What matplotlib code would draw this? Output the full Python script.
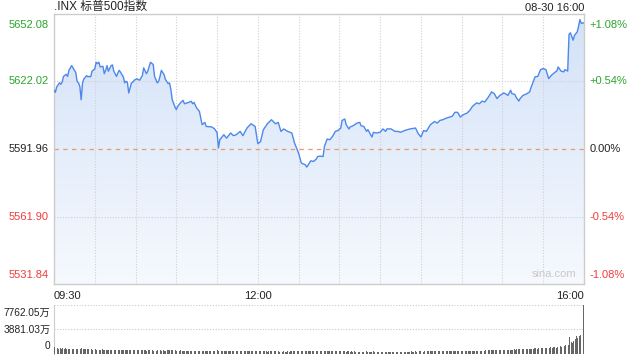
import matplotlib
matplotlib.use('Agg')
import matplotlib.pyplot as plt
from matplotlib.colors import LinearSegmentedColormap
import numpy as np

plt.rcParams['font.family'] = ['Liberation Sans', 'Noto Sans CJK SC', 'DejaVu Sans']

# minute offsets from 09:30 and index level
minutes = [0, 1, 2, 4, 5, 6, 7, 9, 10, 11, 13, 14, 15, 16, 17, 18, 19, 20, 21, 22,
           24, 25, 26, 27, 28, 30, 31, 32, 33, 34, 36, 37, 38, 39, 40, 42, 43, 44, 46, 47,
           48, 49, 51, 52, 53, 54, 55, 57, 58, 59, 61, 63, 65, 66, 68, 69, 71, 73, 74, 76,
           77, 78, 79, 81, 82, 84, 85, 86, 87, 89, 90, 91, 93, 95, 96, 99, 101, 102, 103, 105,
           107, 108, 109, 111, 112, 114, 116, 118, 120, 121, 122, 125, 127, 130, 132, 134, 137, 139, 142, 145,
           148, 150, 152, 154, 157, 160, 163, 165, 167, 169, 172, 175, 177, 180, 182, 185, 186, 189, 191, 193,
           194, 196, 198, 199, 201, 203, 205, 207, 209, 211, 212, 214, 215, 217, 218, 220, 223, 225, 226, 228,
           230, 231, 233, 234, 235, 237, 240, 242, 244, 245, 248, 251, 253, 255, 258, 262, 266, 268, 270, 272,
           274, 277, 280, 282, 284, 286, 289, 293, 295, 297, 299, 301, 304, 306, 308, 311, 313, 315, 317, 320,
           322, 324, 326, 328, 331, 333, 334, 336, 337, 339, 340, 342, 343, 345, 348, 350, 351, 354, 356, 358,
           360, 362, 364, 366, 369, 370, 371, 373, 375, 376, 378, 379, 380, 382, 383, 385, 386, 387, 388, 390]
prices = [5618.1, 5617.2, 5619.6, 5621.4, 5620.8, 5621.8, 5624.3, 5625.2, 5624.3, 5627.0,
          5629.1, 5628.1, 5627.0, 5626.1, 5622.1, 5621.4, 5619.9, 5613.9, 5621.4, 5623.2,
          5624.6, 5624.1, 5624.3, 5624.1, 5626.6, 5627.6, 5630.6, 5630.0, 5630.6, 5628.5,
          5628.8, 5625.5, 5627.0, 5629.1, 5626.6, 5629.1, 5629.4, 5626.6, 5624.3, 5625.8,
          5627.0, 5626.1, 5624.1, 5621.4, 5622.1, 5621.7, 5616.9, 5621.4, 5621.7, 5622.6,
          5623.2, 5622.6, 5624.6, 5628.1, 5625.5, 5626.6, 5630.6, 5629.6, 5624.3, 5621.4,
          5622.1, 5624.3, 5627.0, 5625.1, 5622.9, 5621.1, 5621.4, 5618.4, 5613.9, 5610.7,
          5609.5, 5610.9, 5612.5, 5613.6, 5612.1, 5612.7, 5613.2, 5612.1, 5612.7, 5610.2,
          5608.7, 5605.8, 5602.8, 5603.8, 5602.0, 5601.9, 5601.8, 5601.0, 5599.3, 5592.4,
          5596.1, 5598.3, 5596.8, 5599.1, 5597.9, 5598.3, 5599.8, 5597.9, 5601.3, 5603.2,
          5602.0, 5594.3, 5595.3, 5600.5, 5603.2, 5605.0, 5603.2, 5603.8, 5599.8, 5600.9,
          5599.8, 5599.1, 5594.6, 5590.1, 5585.7, 5584.9, 5583.9, 5586.7, 5586.4, 5587.5,
          5588.6, 5588.8, 5588.6, 5593.1, 5596.4, 5596.1, 5597.6, 5599.8, 5600.2, 5601.3,
          5604.7, 5605.3, 5602.8, 5600.9, 5601.8, 5602.3, 5603.5, 5603.8, 5602.3, 5602.0,
          5599.8, 5600.6, 5598.3, 5597.3, 5599.4, 5599.1, 5599.4, 5600.9, 5599.8, 5600.9,
          5600.9, 5599.8, 5599.8, 5599.4, 5600.2, 5600.9, 5601.3, 5598.8, 5597.3, 5600.2,
          5599.8, 5602.8, 5604.2, 5603.5, 5604.7, 5605.0, 5605.8, 5606.5, 5608.3, 5608.3,
          5606.2, 5607.2, 5608.0, 5609.2, 5611.0, 5612.5, 5612.1, 5613.3, 5612.9, 5615.4,
          5617.4, 5616.6, 5614.4, 5615.8, 5616.9, 5616.3, 5615.8, 5618.1, 5616.6, 5616.3,
          5615.1, 5613.3, 5614.4, 5615.8, 5616.6, 5617.4, 5619.3, 5624.1, 5624.3, 5627.3,
          5627.8, 5627.3, 5623.3, 5624.8, 5626.3, 5626.7, 5628.5, 5626.7, 5626.3, 5627.3,
          5626.7, 5643.1, 5643.7, 5640.4, 5642.6, 5644.1, 5646.6, 5649.6, 5647.9, 5648.2]

# per-minute volume (万)
volume = [1150, 980, 900, 870, 920, 850, 880, 820, 900, 860, 830, 870, 800, 850, 820, 780, 840, 800, 760, 820,
          900, 780, 760, 800, 740, 770, 720, 750, 700, 760, 720, 690, 740, 700, 680, 720, 660, 700, 680, 650,
          700, 660, 640, 690, 650, 620, 660, 630, 610, 650, 620, 640, 600, 630, 590, 700, 620, 580, 610, 590,
          600, 570, 590, 560, 600, 580, 620, 560, 550, 590, 570, 600, 560, 540, 580, 550, 570, 530, 560, 540,
          560, 530, 550, 600, 580, 620, 560, 640, 600, 580, 550, 570, 530, 560, 520, 540, 510, 530, 500, 520,
          500, 520, 490, 510, 480, 530, 500, 520, 560, 540, 500, 490, 510, 480, 500, 470, 490, 480, 500, 560,
          600, 520, 500, 480, 470, 490, 460, 480, 450, 470, 460, 440, 470, 450, 430, 460, 440, 420, 450, 430,
          440, 420, 450, 430, 410, 440, 420, 400, 430, 460, 440, 420, 410, 430, 400, 420, 410, 390, 420, 400,
          410, 390, 420, 400, 380, 410, 390, 400, 380, 410, 390, 370, 400, 380, 420, 400, 430, 450, 440, 460,
          480, 460, 450, 470, 440, 460, 450, 430, 440, 420, 430, 410, 440, 420, 400, 430, 410, 420, 440, 430,
          450, 430, 420, 440, 410, 430, 420, 400, 420, 410, 430, 440, 420, 400, 410, 390, 420, 400, 380, 410,
          390, 400, 380, 410, 390, 370, 400, 380, 390, 370, 400, 380, 390, 370, 380, 400, 380, 370, 390, 380,
          370, 390, 380, 360, 380, 370, 390, 370, 360, 380, 370, 390, 380, 360, 370, 380, 360, 390, 370, 380,
          390, 370, 380, 400, 380, 390, 410, 390, 400, 420, 400, 410, 390, 400, 420, 410, 430, 420, 410, 430,
          420, 440, 430, 420, 450, 430, 440, 460, 440, 450, 470, 450, 460, 440, 470, 460, 480, 460, 470, 490,
          480, 470, 490, 480, 500, 490, 510, 500, 520, 500, 510, 530, 520, 510, 540, 520, 550, 530, 560, 540,
          560, 580, 560, 590, 570, 600, 580, 610, 600, 620, 640, 620, 650, 630, 660, 680, 650, 700, 680, 720,
          700, 740, 720, 760, 740, 780, 760, 800, 780, 820, 800, 840, 860, 820, 880, 900, 860, 920, 940, 900,
          900, 960, 920, 1000, 940, 980, 1050, 1000, 1100, 1050, 1000, 1150, 1050, 1200, 1100, 1250, 1200, 1350, 1300, 1400,
          2650, 1900, 1750, 2100, 2400, 2900, 2600, 2900, 3000, 4100, 7762]

prev_close = 5591.96
y_ticks = [5531.84, 5561.90, 5591.96, 5622.02, 5652.08]
pct_labels = ['-1.08%', '-0.54%', '0.00%', '+0.54%', '+1.08%']
time_labels = ['09:30', '12:00', '16:00']
vol_ticks = [0, 3881.03, 7762.05]
vol_labels = ['0', '3881.03万', '7762.05万']

GREEN = '#2ca52c'
RED = '#f03c3c'
BORDER = '#cccccc'

fig = plt.figure(figsize=(6.4, 3.6), dpi=100)
ax = fig.add_axes([54/640, 1-284/360, 530/640, 270/360])
axv = fig.add_axes([54/640, 1-354/360, 530/640, 49/360])

x = np.array(minutes)
y = np.array(prices)

# gradient fill under the line
grad = np.linspace(0, 1, 256).reshape(-1, 1)
cmap = LinearSegmentedColormap.from_list('g', ['#f6f9fe', '#d3e2f8'])
im = ax.imshow(grad, cmap=cmap, aspect='auto', origin='lower',
               extent=[0, 390, y_ticks[0], y_ticks[-1]], zorder=1)
poly = ax.fill_between(x, y, y_ticks[0], color='none')
im.set_clip_path(poly.get_paths()[0], transform=ax.transData)

ax.plot(x, y, color='#4d88ec', lw=1.0, zorder=3)

# grid
for t in range(30, 390, 30):
    ax.axvline(t, color='#d0d0d0', lw=0.8, ls=(0, (1, 1.5)), zorder=2)
for v in [y_ticks[1], y_ticks[3]]:
    ax.axhline(v, color='#d0d0d0', lw=0.8, ls=(0, (1, 1.5)), zorder=2)
ax.axhline(prev_close, color='#eb9a6a', lw=0.9, ls=(0, (3.5, 3.5)), zorder=2)

ax.set_xlim(0, 390)
ax.set_ylim(y_ticks[0], y_ticks[-1])
ax.set_xticks([])
ax.set_yticks([])
for s in ax.spines.values():
    s.set_color(BORDER)
    s.set_linewidth(1)

colors = [RED, RED, '#222222', GREEN, GREEN]
vas = ['bottom', 'center', 'center', 'center', 'top']
offs = [3, 0, 0, 0, -4]
for v, lab, c, va, o in zip(y_ticks, pct_labels, colors, vas, offs):
    ax.annotate(f'{v:.2f}', (0, v), xycoords=('axes fraction', 'data'),
                xytext=(-4, o), textcoords='offset points',
                ha='right', va=va, color=c, fontsize=8)
    ax.annotate(lab, (1, v), xycoords=('axes fraction', 'data'),
                xytext=(4, o), textcoords='offset points',
                ha='left', va=va, color=c, fontsize=8)

ax.text(0, 1.004, '.INX 标普500指数', transform=ax.transAxes, ha='left',
        va='bottom', fontsize=8.5, color='#222222')
ax.text(1, 1.004, '08-30 16:00', transform=ax.transAxes, ha='right',
        va='bottom', fontsize=8, color='#222222')
ax.text(0.985, 0.02, 'sina.com', transform=ax.transAxes, ha='right',
        va='bottom', fontsize=8, color='#c8c8c8')

for lab, t in zip(time_labels, [0, 150, 390]):
    ha = {0: 'left', 150: 'center', 390: 'right'}[t]
    ax.annotate(lab, (t, 0), xycoords=('data', 'axes fraction'),
                xytext=(0, -5), textcoords='offset points',
                ha=ha, va='top', fontsize=8, color='#222222')

# volume panel
axv.bar(np.arange(len(volume)), volume, width=0.6, color='#666666', zorder=3)
axv.set_xlim(-0.5, 390.5)
axv.set_ylim(0, vol_ticks[-1])
for v in vol_ticks:
    axv.axhline(v, color='#c8c8c8', lw=0.8, ls=(0, (1, 1.5)), zorder=1)
axv.set_xticks([])
axv.set_yticks([])
for k, s in axv.spines.items():
    s.set_visible(False)
axv.spines['left'].set_visible(True)
axv.spines['left'].set_color(BORDER)
vvas = ['bottom', 'center', 'top']
voffs = [2, 0, -2]
for v, lab, va, o in zip(vol_ticks, vol_labels, vvas, voffs):
    axv.annotate(lab, (0, v), xycoords=('axes fraction', 'data'),
                 xytext=(-2.5, o), textcoords='offset points',
                 ha='right', va=va, fontsize=7.3, color='#222222')

fig.savefig('out.png', dpi=100)
